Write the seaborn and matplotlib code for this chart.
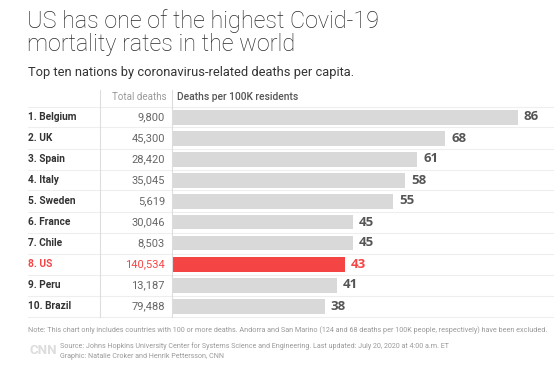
import matplotlib
matplotlib.use("Agg")
import matplotlib.pyplot as plt
import seaborn as sns
import pandas as pd
from matplotlib.lines import Line2D

countries = ["1. Belgium", "2. UK", "3. Spain", "4. Italy", "5. Sweden",
             "6. France", "7. Chile", "8. US", "9. Peru", "10. Brazil"]
total_deaths = ["9,800", "45,300", "28,420", "35,045", "5,619",
                "30,046", "8,503", "140,534", "13,187", "79,488"]
per_100k = [86, 68, 61, 58, 55, 45, 45, 43, 41, 38]
highlight = ["no", "no", "no", "no", "no", "no", "no", "yes", "no", "no"]

title = "US has one of the highest Covid-19\nmortality rates in the world"
subtitle = "Top ten nations by coronavirus-related deaths per capita."
col_total = "Total deaths"
col_rate = "Deaths per 100K residents"
note = ("Note: This chart only includes countries with 100 or more deaths. Andorra and San Marino "
        "(124 and 68 deaths per 100K people, respectively) have been excluded.")
source = "Source: Johns Hopkins University Center for Systems Science and Engineering. Last updated: July 20, 2020 at 4:00 a.m. ET"
graphic = "Graphic: Natalie Croker and Henrik Pettersson, CNN"

df = pd.DataFrame({"country": countries, "total": total_deaths,
                   "rate": per_100k, "hl": highlight})

W, H = 558, 370
RED = "#f44444"
GREY_BAR = "#d9d9d9"
TXT = "#333333"
plt.rcParams["font.family"] = ["Roboto", "DejaVu Sans"]

fig = plt.figure(figsize=(W / 100, H / 100), dpi=100)
fig.patch.set_facecolor("white")

def fx(px):
    return px / W

def fy(py):
    return 1 - py / H

row0, pitch = 117, 21
x0, x1 = 172, 553
scale = 4.02
top = row0 - pitch / 2
bottom = row0 + pitch * 9.5
ax = fig.add_axes([fx(x0), fy(bottom), fx(x1 - x0), (bottom - top) / H])
sns.barplot(data=df, y="country", x="rate", hue="hl",
            palette={"no": GREY_BAR, "yes": RED}, orient="h",
            width=15 / 21, legend=False, ax=ax, saturation=1)
ax.set_xlim(0, (x1 - x0) / scale)
ax.set_ylim(9.5, -0.5)
ax.axis("off")
for i, (v, h) in enumerate(zip(per_100k, highlight)):
    ax.text(v + 1.5, i, str(v), va="center", ha="left", fontsize=9.5,
            fontweight="bold", family=["Open Sans", "DejaVu Sans"],
            color=RED if h == "yes" else "#555555")

# titles
fig.text(fx(27), fy(9), title, fontsize=16.8, color="#2a2a2a", va="top",
         ha="left", linespacing=1.0, fontweight="light")
fig.text(fx(28), fy(66), subtitle, fontsize=9.3, color="#333333", va="top", ha="left")

# header
fig.text(fx(166), fy(97), col_total, fontsize=7, color="#999999", va="center", ha="right")
fig.text(fx(177), fy(97), col_rate, fontsize=7.4, color="#555555", va="center",
         ha="left", fontweight="medium")

# rows
for i, (c, t, h) in enumerate(zip(countries, total_deaths, highlight)):
    y = row0 + pitch * i
    col = RED if h == "yes" else TXT
    fig.text(fx(28), fy(y), c, fontsize=7.3, fontweight="bold", color=col,
             va="center", ha="left")
    fig.text(fx(165), fy(y), t, fontsize=8, color=RED if h == "yes" else "#666666",
             va="center", ha="right")

# separators
for i in range(11):
    y = top + pitch * i
    fig.add_artist(Line2D([fx(28), fx(x1)], [fy(y), fy(y)], color="#eeeeee", lw=0.8))
for xv in (100, 172):
    fig.add_artist(Line2D([fx(xv), fx(xv)], [fy(90), fy(bottom)], color="#dddddd", lw=0.8))

# footer
fig.text(fx(28), fy(330), note, fontsize=5.2, color="#999999", va="center", ha="left")
fig.text(fx(29), fy(351), "CNN", fontsize=9.5, fontweight="bold", color="#dddddd",
         va="center", ha="left")
fig.text(fx(60), fy(346), source, fontsize=5.1, color="#999999", va="center", ha="left")
fig.text(fx(60), fy(356), graphic, fontsize=5.1, color="#999999", va="center", ha="left")

fig.savefig("out.png", dpi=100)
